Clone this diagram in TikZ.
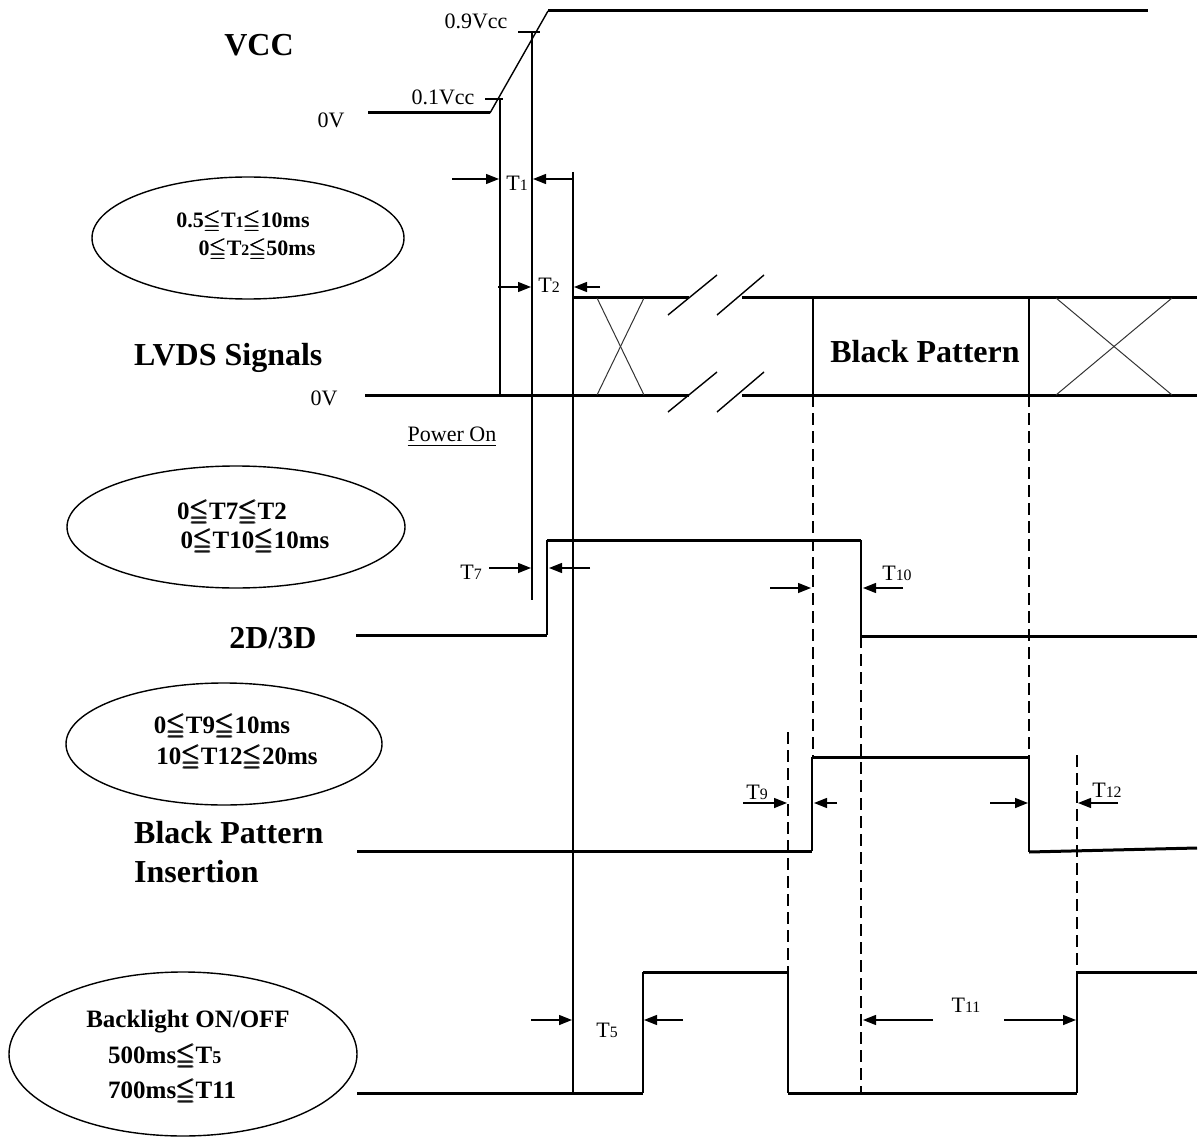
\documentclass[tikz,border=0pt]{standalone}
\usepackage{amsmath,amssymb}
\usepackage{fontspec}
\setmainfont{Liberation Serif}
\usetikzlibrary{arrows.meta,shapes.geometric}
\newcommand\sdig[1]{\scalebox{0.72}{#1}}
\newcommand\myle{$\pmb{\leqq}$}
\tikzset{
  wave/.style={line width=3pt, line join=miter},
  edgeln/.style={line width=1.8pt},
  thinln/.style={line width=1.4pt},
  xline/.style={line width=1pt, black!80},
  dashln/.style={line width=1.4pt, dash pattern=on 12pt off 6pt},
  dimarr/.style={line width=1.4pt, -{Triangle[length=13pt,width=10pt]}},
  big/.style={font=\fontsize{32}{36}\selectfont\bfseries, inner sep=0pt},
  lab/.style={font=\fontsize{22}{25}\selectfont, inner sep=0pt},
  etxt/.style={font=\fontsize{25}{28}\selectfont\bfseries, inner sep=0pt},
  oval/.style={draw, ellipse, line width=1.4pt, inner sep=0pt}
}
\begin{document}
\begin{tikzpicture}[x=1pt,y=-1pt]
\useasboundingbox (0,0) rectangle (1199,1139);
% ---------- VCC ----------
\node[big] (vcc) at (259,45) {VCC};
\node[lab] (v0) at (331,120) {0V};
\node[lab] (v01) at (443,97) {0.1Vcc};
\node[lab] (v09) at (476,21) {0.9Vcc};
\draw[wave] (368,113) -- (490,113);
\draw[thinln] (490,113) -- (548,11);
\draw[wave] (548,11) -- (1148,11);
\draw[thinln] (485,99) -- (503,99);
\draw[thinln] (518,32) -- (540,32);
% verticals
\draw[thinln] (500,99) -- (500,395);
\draw[thinln] (532,32) -- (532,600);
\draw[thinln] (573,172) -- (573,1093);
% T1, T2
\node[lab] (t1) at (517,183) {T\sdig{1}};
\draw[dimarr] (452,179) -- (499,179);
\draw[dimarr] (572,179) -- (533,179);
\node[lab] (t2) at (549,285) {T\sdig{2}};
\draw[dimarr] (498,287) -- (531,287);
\draw[dimarr] (600,287) -- (574,287);
% ellipse 1
\node[oval, minimum width=312pt, minimum height=122pt] (e1) at (248,238) {};
\node[etxt, font=\fontsize{22}{25}\selectfont\bfseries] (e1a) at (243,222) {0.5\myle T\sdig{1}\myle 10ms};
\node[etxt, font=\fontsize{22}{25}\selectfont\bfseries] (e1b) at (257,250) {0\myle T\sdig{2}\myle 50ms};
% ---------- LVDS ----------
\node[big, anchor=west] (lvds) at (134,358) {LVDS Signals};
\node[lab] (l0) at (324,398) {0V};
\draw[wave] (573,298) -- (689,298);
\draw[wave] (742,298) -- (1197,298);
\draw[wave] (365,395) -- (689,395);
\draw[wave] (742,395) -- (1197,395);
\draw[xline] (597,298) -- (644,395);
\draw[xline] (644,298) -- (597,395);
\draw[xline] (1056,298) -- (1172,395);
\draw[xline] (1172,298) -- (1056,395);
\draw[thinln] (668,315) -- (717,275);
\draw[thinln] (717,315) -- (764,275);
\draw[thinln] (668,412) -- (717,372);
\draw[thinln] (717,412) -- (764,372);
\draw[thinln] (813,298) -- (813,395);
\draw[thinln] (1029,298) -- (1029,395);
\node[big] (bp) at (925,352) {Black Pattern};
\node[lab] (pon) at (452,437) {\underline{Power On}};
% dashed guides
\draw[dashln] (813,395) -- (813,757);
\draw[dashln] (1029,395) -- (1029,757);
\draw[dashln] (861,636) -- (861,1093);
\draw[dashln] (788,732) -- (788,972);
\draw[dashln] (1077,755) -- (1077,972);
% ---------- 2D/3D ----------
\node[big] (d23) at (273,638) {2D/3D};
\node[oval, minimum width=338pt, minimum height=122pt] (e2) at (236,527) {};
\node[etxt] (e2a) at (232,513) {0\myle T7\myle T2};
\node[etxt] (e2b) at (255,542) {0\myle T10\myle 10ms};
\draw[wave] (356,635) -- (547,635);
\draw[edgeln] (547,635) -- (547,540);
\draw[wave] (547,540) -- (861,540);
\draw[edgeln] (861,540) -- (861,636);
\draw[wave] (861,636) -- (1197,636);
\node[lab] (t7) at (471,572) {T\sdig{7}};
\draw[dimarr] (489,568) -- (531,568);
\draw[dimarr] (590,568) -- (549,568);
\node[lab] (t10) at (897,573) {T\sdig{10}};
\draw[dimarr] (770,588) -- (811,588);
\draw[dimarr] (903,588) -- (863,588);
% ---------- Black Pattern Insertion ----------
\node[oval, minimum width=316pt, minimum height=122pt] (e3) at (224,744) {};
\node[etxt] (e3a) at (222,727) {0\myle T9\myle 10ms};
\node[etxt] (e3b) at (237,758) {10\myle T12\myle 20ms};
\node[big, anchor=west] (bpi1) at (134,833) {Black Pattern};
\node[big, anchor=west] (bpi2) at (134,872) {Insertion};
\draw[wave] (357,851) -- (812,851);
\draw[edgeln] (812,851) -- (812,757);
\draw[wave] (812,757) -- (1029,757);
\draw[edgeln] (1029,757) -- (1029,852);
\draw[wave] (1029,852) -- (1197,848);
\node[lab] (t9) at (757,792) {T\sdig{9}};
\draw[dimarr] (743,803) -- (787,803);
\draw[dimarr] (837,803) -- (814,803);
\node[lab] (t12) at (1107,790) {T\sdig{12}};
\draw[dimarr] (990,803) -- (1028,803);
\draw[dimarr] (1118,803) -- (1078,803);
% ---------- Backlight ----------
\node[oval, minimum width=348pt, minimum height=164pt] (e4) at (183,1054) {};
\node[etxt] (e4a) at (188,1022) {Backlight ON/OFF};
\node[etxt, anchor=west] (e4b) at (108,1057) {500ms\myle T\sdig{5}};
\node[etxt, anchor=west] (e4c) at (108,1092) {700ms\myle T11};
\draw[wave] (357,1093) -- (643,1093);
\draw[edgeln] (643,1093) -- (643,972);
\draw[wave] (643,972) -- (788,972);
\draw[edgeln] (788,972) -- (788,1093);
\draw[wave] (788,1093) -- (1077,1093);
\draw[edgeln] (1077,1093) -- (1077,972);
\draw[wave] (1077,972) -- (1197,972);
\node[lab] (t5) at (607,1030) {T\sdig{5}};
\draw[dimarr] (531,1020) -- (572,1020);
\draw[dimarr] (683,1020) -- (644,1020);
\node[lab] (t11) at (966,1005) {T\sdig{11}};
\draw[dimarr] (933,1020) -- (863,1020);
\draw[dimarr] (1004,1020) -- (1076,1020);
\end{tikzpicture}
\end{document}
